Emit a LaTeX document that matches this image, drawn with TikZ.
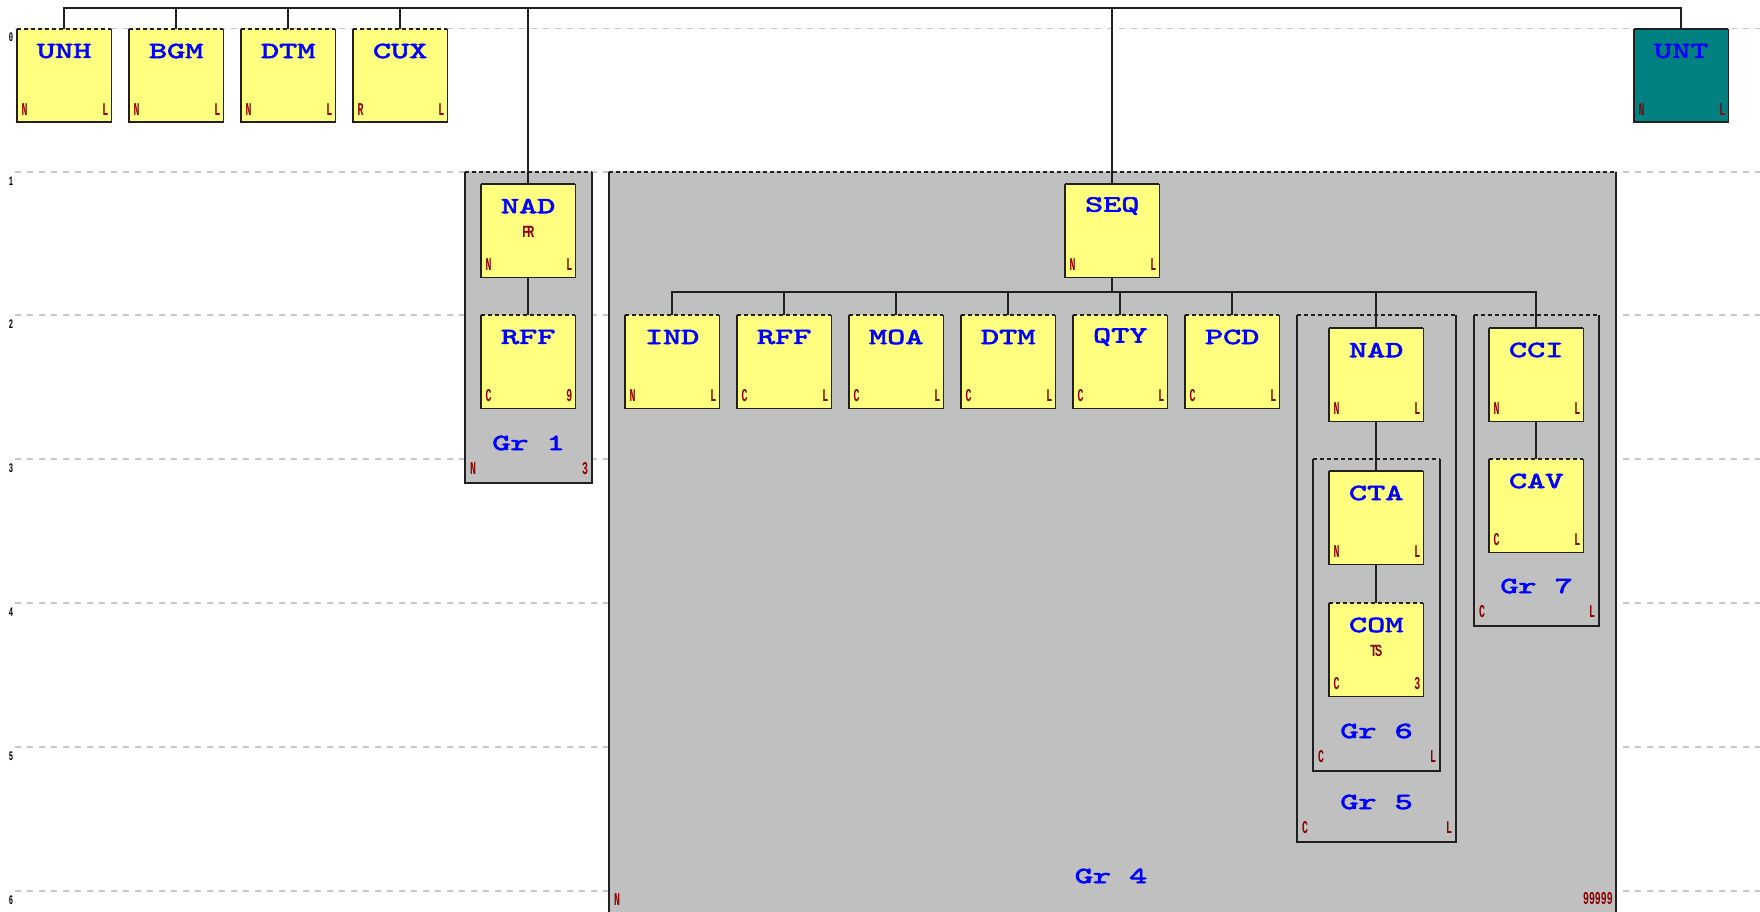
\documentclass[tikz,border=0pt]{standalone}
\usepackage{fontspec}
\newfontfamily\namefont[FakeStretch=1.5,FakeBold=3]{lmmono10-regular.otf}
\newfontfamily\cornfont[FakeStretch=0.55]{Liberation Mono}
\newfontfamily\tinyfont[FakeStretch=0.7]{Liberation Mono}
\definecolor{segyellow}{HTML}{FFFF80}
\definecolor{grpgray}{HTML}{C0C0C0}
\definecolor{untteal}{HTML}{008080}
\definecolor{nameblue}{HTML}{0000FF}
\definecolor{corred}{HTML}{8B0000}
\definecolor{gridgray}{HTML}{C8C8C8}
\definecolor{linecol}{HTML}{202020}
\newcommand\segbox[8]{%
  \node[segnode, fill=#8, anchor=north west] (#1) at (#2,#3) {};
  \draw[edge] (#1.north west) -- (#1.south west) -- (#1.south east) -- (#1.north east);
  \draw[edge,#7] (#1.north west) -- (#1.north east);
  \node[segname] (#1-n) at ([yshift=-22pt]#1.north) {#4};
  \node[corner] (#1-l) at ([xshift=7.5pt,yshift=13pt]#1.south west) {#5};
  \node[corner] (#1-r) at ([xshift=-6pt,yshift=13pt]#1.south east) {#6};
}
\newcommand\grpbox[8]{%
  \coordinate (#1-nw) at (#2,#3);
  \coordinate (#1-se) at (#4,#5);
  \coordinate (#1-ne) at (#4,#3);
  \coordinate (#1-sw) at (#2,#5);
  \fill[grpgray] (#1-nw) rectangle (#1-se);
  \draw[edge] (#1-nw) -- (#1-sw) -- (#1-se) -- (#1-ne);
  \draw[edge,dashtop] (#1-nw) -- (#1-ne);
  \node[segname] (#1-n) at ({(#2+#4)/2},{#5-40}) {#6};
  \node[corner] (#1-l) at ({#2+8},{#5-14}) {#7};
  \node[corner] (#1-r) at ({#4-7},{#5-14}) {#8};
}
\begin{document}
\begin{tikzpicture}[x=1pt,y=-1pt,
  segnode/.style={rectangle, draw=none, minimum width=94pt, minimum height=93pt, inner sep=0pt},
  edge/.style={draw=linecol, line width=1.8pt},
  dashtop/.style={dash pattern=on 4pt off 3pt},
  segname/.style={text=nameblue, font=\namefont\fontsize{23}{23}\selectfont, inner sep=0pt},
  corner/.style={text=corred, font=\cornfont\bfseries\fontsize{18}{18}\selectfont, inner sep=0pt},
  tiny/.style={text=corred, font=\tinyfont\bfseries\fontsize{17}{17}\selectfont, inner sep=0pt},
  rowmark/.style={text=black, font=\cornfont\bfseries\fontsize{13}{13}\selectfont, inner sep=0pt},
  conn/.style={draw=linecol, line width=1.6pt},
  grid/.style={draw=gridgray, line width=1.5pt, dash pattern=on 6pt off 6pt}]
\useasboundingbox (0,0) rectangle (1760,912);
\fill[white] (0,0) rectangle (1760,912);
% grid lines
\foreach \gy/\lab in {28.5/0,172/1,315/2,459/3,603/4,747/5,891/6}{
  \draw[grid] (15,\gy) -- (1760,\gy);
  \node[rowmark] (row\lab) at (11,\gy+9) {\lab};
}
% groups
\fill[grpgray] (609,172) rectangle (1616,920);
\coordinate (g4-nw) at (609,172);
\coordinate (g4-ne) at (1616,172);
\coordinate (g4-sw) at (609,920);
\coordinate (g4-se) at (1616,920);
\draw[edge] (g4-nw) -- (g4-sw);
\draw[edge] (g4-ne) -- (g4-se);
\draw[edge,dashtop] (g4-nw) -- (g4-ne);
\node[segname] (g4-n) at (1111,876) {Gr 4};
\node[corner] (g4-l) at (617,900) {N};
\node[corner, anchor=east] (g4-r) at (1613,899) {99999};
\grpbox{g1}{465}{172}{592}{483}{Gr 1}{N}{3}
\grpbox{g5}{1297}{315}{1456}{842}{Gr 5}{C}{L}
\grpbox{g6}{1313}{459}{1440}{771}{Gr 6}{C}{L}
\grpbox{g7}{1474}{315}{1599}{626}{Gr 7}{C}{L}
% row 0
\segbox{UNH}{17}{29}{UNH}{N}{L}{dashtop}{segyellow}
\segbox{BGM}{129}{29}{BGM}{N}{L}{dashtop}{segyellow}
\segbox{DTM0}{241}{29}{DTM}{N}{L}{dashtop}{segyellow}
\segbox{CUX}{353}{29}{CUX}{R}{L}{dashtop}{segyellow}
\segbox{UNT}{1634}{29}{UNT}{N}{L}{solid}{untteal}
% group 1
\segbox{NAD1}{481}{184}{NAD}{N}{L}{solid}{segyellow}
\node[tiny] (NAD1-s) at ([yshift=-48pt]NAD1.north) {F\kern-2ptR};
\segbox{RFF1}{481}{315}{RFF}{C}{9}{dashtop}{segyellow}
% group 4
\segbox{SEQ}{1065}{184}{SEQ}{N}{L}{solid}{segyellow}
\segbox{IND}{625}{315}{IND}{N}{L}{dashtop}{segyellow}
\segbox{RFF2}{737}{315}{RFF}{C}{L}{dashtop}{segyellow}
\segbox{MOA}{849}{315}{MOA}{C}{L}{dashtop}{segyellow}
\segbox{DTM2}{961}{315}{DTM}{C}{L}{dashtop}{segyellow}
\segbox{QTY}{1073}{315}{QTY}{C}{L}{dashtop}{segyellow}
\segbox{PCD}{1185}{315}{PCD}{C}{L}{dashtop}{segyellow}
% group 5 / 6
\segbox{NAD5}{1329}{328}{NAD}{N}{L}{solid}{segyellow}
\segbox{CTA}{1329}{471}{CTA}{N}{L}{solid}{segyellow}
\segbox{COM}{1329}{603}{COM}{C}{3}{dashtop}{segyellow}
\node[tiny] (COM-s) at ([yshift=-48pt]COM.north) {T\kern-2ptS};
% group 7
\segbox{CCI}{1489}{328}{CCI}{N}{L}{solid}{segyellow}
\segbox{CAV}{1489}{459}{CAV}{C}{L}{dashtop}{segyellow}
% connectors
\coordinate (topbus) at (0,8);
\coordinate (seqbus) at (0,292);
\draw[conn] (UNH.north) -- (UNH.north |- topbus) -- (UNT.north |- topbus) -- (UNT.north);
\draw[conn] (BGM.north) -- (BGM.north |- topbus);
\draw[conn] (DTM0.north) -- (DTM0.north |- topbus);
\draw[conn] (CUX.north) -- (CUX.north |- topbus);
\draw[conn] (NAD1.north) -- (NAD1.north |- topbus);
\draw[conn] (SEQ.north) -- (SEQ.north |- topbus);
\draw[conn] (NAD1.south) -- (RFF1.north);
\draw[conn] (SEQ.south) -- (SEQ.south |- seqbus);
\draw[conn] (IND.north) -- (IND.north |- seqbus) -- (CCI.north |- seqbus) -- (CCI.north);
\draw[conn] (RFF2.north) -- (RFF2.north |- seqbus);
\draw[conn] (MOA.north) -- (MOA.north |- seqbus);
\draw[conn] (DTM2.north) -- (DTM2.north |- seqbus);
\draw[conn] (QTY.north) -- (QTY.north |- seqbus);
\draw[conn] (PCD.north) -- (PCD.north |- seqbus);
\draw[conn] (NAD5.north) -- (NAD5.north |- seqbus);
\draw[conn] (NAD5.south) -- (CTA.north);
\draw[conn] (CTA.south) -- (COM.north);
\draw[conn] (CCI.south) -- (CAV.north);
\end{tikzpicture}
\end{document}
